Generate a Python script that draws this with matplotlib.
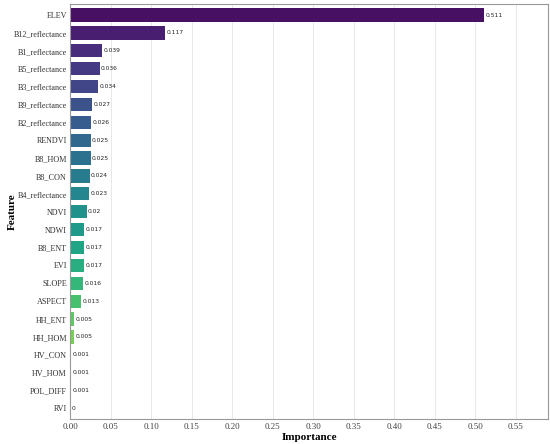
import matplotlib
matplotlib.use('Agg')
import matplotlib.pyplot as plt
import seaborn as sns
import numpy as np


features = ["ELEV", "B12_reflectance", "B1_reflectance", "B5_reflectance",
            "B3_reflectance", "B9_reflectance", "B2_reflectance", "RENDVI",
            "B8_HOM", "B8_CON", "B4_reflectance", "NDVI", "NDWI", "B8_ENT",
            "EVI", "SLOPE", "ASPECT", "HH_ENT", "HH_HOM", "HV_CON", "HV_HOM",
            "POL_DIFF", "RVI"]
importance = [0.511, 0.117, 0.039, 0.036, 0.034, 0.027, 0.026, 0.025,
              0.025, 0.024, 0.023, 0.02, 0.017, 0.017, 0.017, 0.016, 0.013,
              0.005, 0.005, 0.001, 0.001, 0.001, 0]
xticks = [0.0, 0.05, 0.1, 0.15, 0.2, 0.25, 0.3, 0.35, 0.4, 0.45, 0.5, 0.55]

serif = ['Liberation Serif', 'DejaVu Serif']

# viridis steps, one per feature
pal = sns.color_palette("viridis", len(features))

fig = plt.figure(figsize=(5.5, 4.44), dpi=100)
ax = fig.add_axes([0.128, 0.056, 0.868, 0.935])

y = np.arange(len(features))
ax.barh(y, importance, height=0.74, color=pal, zorder=2)

for yi, v in zip(y, importance):
    ax.text(v + 0.0015, yi, str(v), ha='left', va='center',
            fontsize=4.3, family='DejaVu Sans', color='#222222')

ax.set_ylim(len(features) - 0.4, -0.62)
ax.set_xlim(0, 0.5895)
ax.set_yticks(y)
ax.set_yticklabels(features, family=serif, fontsize=5.9, color='#333333')
ax.set_xticks(xticks)
ax.set_xticklabels(['%.2f' % t for t in xticks], family=serif, fontsize=6.5,
                   color='#444444')
ax.tick_params(length=0, pad=2.5)

ax.grid(axis='x', color='#e8e8e8', linewidth=0.7, zorder=0)
ax.set_axisbelow(True)
for s in ax.spines.values():
    s.set_color('#999999')
    s.set_linewidth(0.8)

ax.set_xlabel('Importance', family=serif, fontsize=8, fontweight='bold',
              labelpad=2)
ax.set_ylabel('Feature', family=serif, fontsize=8, fontweight='bold')
ax.yaxis.set_label_coords(-0.113, 0.5)

plt.savefig('out.png', dpi=100)
